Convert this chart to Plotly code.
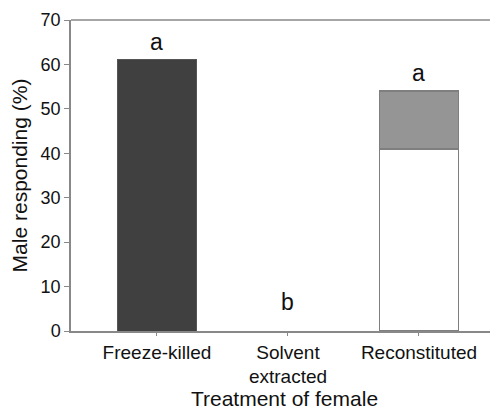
import plotly.graph_objects as go

categories = ["Freeze-killed", "Solvent<br>extracted", "Reconstituted"]
freeze_vals = [61, None, None]
base_vals = [None, None, 41]
top_vals = [None, None, 13]
letters = ["a", "b", "a"]
letter_y = [65.0, 6.5, 58.0]
y_ticks = [0, 10, 20, 30, 40, 50, 60, 70]

font = "Liberation Sans, Arial, sans-serif"
fig = go.Figure()
fig.add_trace(go.Bar(x=categories, y=freeze_vals, marker=dict(color="#404040", line=dict(color="#555555", width=1)), width=0.6))
fig.add_trace(go.Bar(x=categories, y=base_vals, marker=dict(color="#ffffff", line=dict(color="#7f7f7f", width=1.5)), width=0.6))
fig.add_trace(go.Bar(x=categories, y=top_vals, marker=dict(color="#959595", line=dict(color="#7f7f7f", width=1.5)), width=0.6))

for c, t, yv in zip(categories, letters, letter_y):
    fig.add_annotation(x=c, y=yv, text=t, showarrow=False, font=dict(size=23, color="#111111", family=font), yanchor="middle")

# page body has an 8px margin, so the figure is offset by 8px
fig.update_layout(
    width=490, height=405, barmode="stack", showlegend=False,
    plot_bgcolor="white", paper_bgcolor="white",
    margin=dict(l=63, r=0, t=12, b=82),
    font=dict(family=font, color="#111111"),
    bargap=0.4,
)
fig.update_xaxes(
    range=[-0.656, 2.603], showline=True, linecolor="#888888", linewidth=1.5,
    ticks="outside", ticklen=3, tickcolor="#888888", tickfont=dict(size=19),
    title=dict(text="Treatment of female", font=dict(size=21), standoff=2),
    mirror=False,
)
fig.update_yaxes(
    range=[0, 70], tickvals=y_ticks, showline=True, linecolor="#888888", linewidth=1.5,
    ticks="outside", ticklen=5, tickcolor="#888888", tickfont=dict(size=18),
    showgrid=False, zeroline=False,
    title=dict(text="Male responding (%)", font=dict(size=21), standoff=8),
)
# top border line
fig.add_shape(type="line", xref="paper", yref="paper", x0=0, x1=1, y0=1, y1=1, line=dict(color="#888888", width=1.5))

fig.write_html("out.html")
